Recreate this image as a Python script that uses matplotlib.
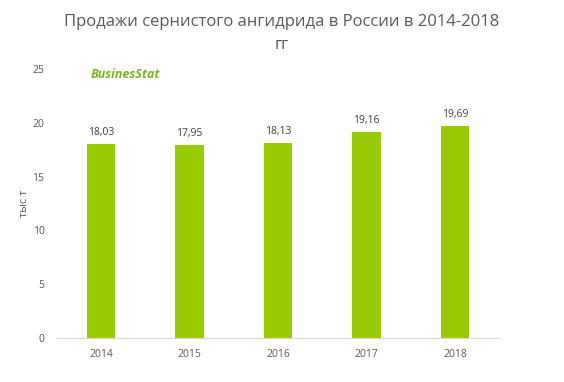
import matplotlib.pyplot as plt

years = ['2014', '2015', '2016', '2017', '2018']
sales = [18.03, 17.95, 18.13, 19.16, 19.69]
labels = ['18,03', '17,95', '18,13', '19,16', '19,69']

plt.rcParams['font.family'] = ['Open Sans', 'DejaVu Sans']

fig = plt.figure(figsize=(5.64, 3.82), dpi=100)
ax = fig.add_axes([0.101, 0.115, 0.784, 0.704])

x = range(len(years))
ax.bar(x, sales, width=0.32, color='#99cc00')
for i, v in enumerate(sales):
    ax.text(i, v + 0.6, labels[i], ha='center', va='bottom', fontsize=7.5, color='#404040')

ax.set_xlim(-0.5, len(years) - 0.5)
ax.set_ylim(0, 25)
ax.set_yticks([0, 5, 10, 15, 20, 25])
ax.set_xticks(list(x))
ax.set_xticklabels(years)
ax.tick_params(length=0, labelsize=7.5, colors='#595959', pad=8)
ax.tick_params(axis='y', pad=9)
for s in ['top', 'right', 'left']:
    ax.spines[s].set_visible(False)
ax.spines['bottom'].set_color('#d9d9d9')

ax.set_ylabel('тыс т', fontsize=8, color='#595959', labelpad=2)

fig.text(0.5, 0.913, 'Продажи сернистого ангидрида в России в 2014-2018\nгг',
         ha='center', va='center', fontsize=12, color='#595959', linespacing=1.55)
fig.text(0.16, 0.805, 'BusinesStat', ha='left', va='center', fontsize=9,
         color='#7ab51d', fontweight='bold', style='italic')

fig.savefig('out.png', dpi=100)
